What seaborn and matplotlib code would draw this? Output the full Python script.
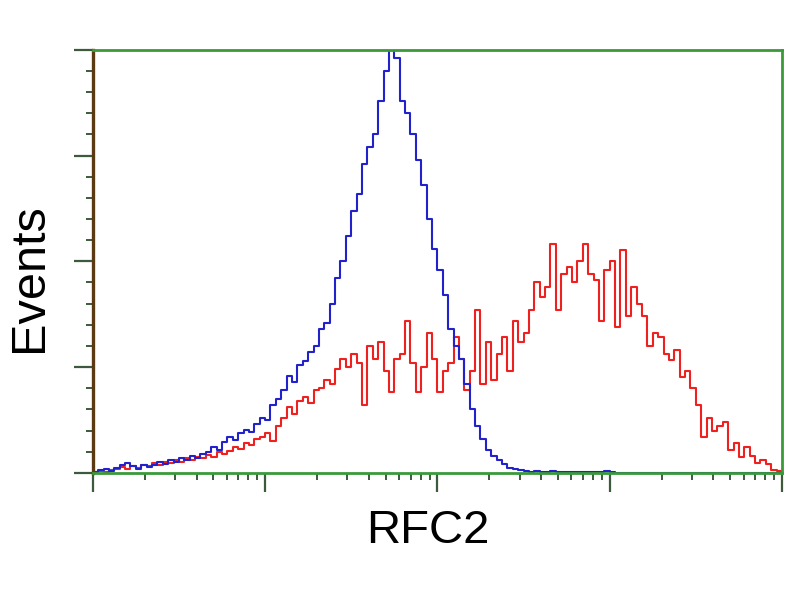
import numpy as np
import pandas as pd
import matplotlib
matplotlib.use("Agg")
import matplotlib.pyplot as plt
import matplotlib.ticker as mticker
import seaborn as sns

# 128 log-spaced channels over 4 decades, events in % of the blue peak
n_bins = 128
blue_counts = [
    0.3, 0.6, 1.0, 0.5, 1.2, 1.8, 2.4, 1.5, 1.0, 1.8, 1.4,
    1.8, 2.6, 2.0, 3.0, 2.6, 3.4, 3.0, 4.0, 3.6, 4.4,
    5.0, 6.0, 5.5, 7.2, 8.5, 7.8, 9.5, 10.2, 9.6, 11.5,
    13, 12.5, 16, 17.5, 19.5, 23, 21.5, 25.5, 26.5, 28.5,
    30, 34, 35.5, 40, 46, 50, 56, 62, 66, 73,
    77, 80, 88, 95, 100, 98, 88, 85, 80, 74,
    68, 60, 53, 48, 42, 34, 30, 27, 21, 15,
    11, 8, 5.5, 4, 3, 2, 1.2, 1.0, 0.6,
    0.4, 0.3, 0.5, 0.2, 0.3, 0.5, 0.2, 0.1, 0.3, 0.2,
    0.1, 0.2, 0.3, 0.1, 0.1, 0.4, 0.2, 0.0, 0.0, 0.0,
    0, 0, 0, 0, 0, 0, 0, 0, 0, 0,
    0, 0, 0, 0, 0, 0, 0, 0, 0, 0,
    0, 0, 0, 0, 0, 0, 0, 0,
]
red_counts = [
    0.2, 0.4, 0.3, 0.6, 0.9, 1.4, 0.8, 1.6, 1.2, 1.9, 1.5,
    2.2, 1.8, 2.6, 2.2, 3.0, 2.6, 3.4, 3.0, 3.8, 3.4,
    4.2, 3.8, 5.0, 4.4, 5.2, 6.0, 5.6, 7.0, 6.5, 8.0,
    8.5, 9.5, 7.5, 11, 13, 15.6, 14, 17, 18, 16.5,
    19.5, 20, 22, 21, 24.5, 27, 25, 28, 26, 16,
    30, 27, 31, 24, 19, 27, 28, 36, 26, 19,
    25, 33, 27, 19, 24, 26, 32, 27, 19.6, 24,
    38.5, 21, 31, 22, 28, 32, 24, 36, 31, 33,
    38.5, 45, 41.5, 44, 54, 38.5, 47, 48.7, 45, 50,
    54, 47, 45.6, 36, 48, 50, 34.5, 52.7, 37, 44,
    40, 37, 30, 33, 32, 28, 26.7, 29, 22.7, 24,
    20, 16, 8.5, 13, 10, 11, 12, 5.4, 7, 3.8,
    6, 4, 2.4, 3, 2, 0.7, 0.5,
]
red_counts = red_counts + [0.3] * (n_bins - len(red_counts))

log_centers = (np.arange(n_bins) + 0.5) * 4 / n_bins
df = pd.DataFrame({
    "signal": np.concatenate([10 ** log_centers, 10 ** log_centers]),
    "events": np.concatenate([blue_counts[:n_bins], red_counts]),
    "sample": ["control"] * n_bins + ["RFC2"] * n_bins,
})

plt.rcParams["font.family"] = ["Liberation Sans", "DejaVu Sans"]
fig = plt.figure(figsize=(8, 6), dpi=100)
ax = fig.add_axes([0.116, 0.212, 0.8615, 0.705])

sns.histplot(data=df, x="signal", weights="events", hue="sample",
             palette={"control": "#2222cc", "RFC2": "#ee2020"},
             bins=n_bins, binrange=(0, 4), log_scale=True,
             element="step", fill=False, linewidth=1.5,
             legend=False, ax=ax)

ax.set_xlim(1, 10 ** 4)
ax.set_ylim(0, 100)

green = "#3a9a3a"
for side in ["top", "right", "bottom"]:
    ax.spines[side].set_color(green)
    ax.spines[side].set_linewidth(2.0)
ax.spines["left"].set_color("#5a3a12")
ax.spines["left"].set_linewidth(2.4)

ax.yaxis.set_major_locator(mticker.MultipleLocator(25))
ax.yaxis.set_minor_locator(mticker.MultipleLocator(5))
ax.xaxis.set_major_locator(mticker.LogLocator(base=10, numticks=10))
ax.xaxis.set_minor_locator(mticker.LogLocator(base=10, subs=np.arange(2, 10), numticks=20))
ax.xaxis.set_major_formatter(mticker.NullFormatter())
ax.xaxis.set_minor_formatter(mticker.NullFormatter())
ax.yaxis.set_major_formatter(mticker.NullFormatter())

tick_col = "#3d5a3d"
ax.tick_params(axis="both", which="major", length=14, width=1.6, color=tick_col, direction="out")
ax.tick_params(axis="both", which="minor", length=5, width=1.4, color=tick_col, direction="out")

ax.set_xlabel("RFC2", fontsize=34, ha="center", va="center")
ax.set_ylabel("Events", fontsize=35, ha="center", va="center")
ax.xaxis.set_label_coords(0.486, -0.137)
ax.yaxis.set_label_coords(-0.0914, 0.461)

fig.savefig("out.png", dpi=100, facecolor="white")
